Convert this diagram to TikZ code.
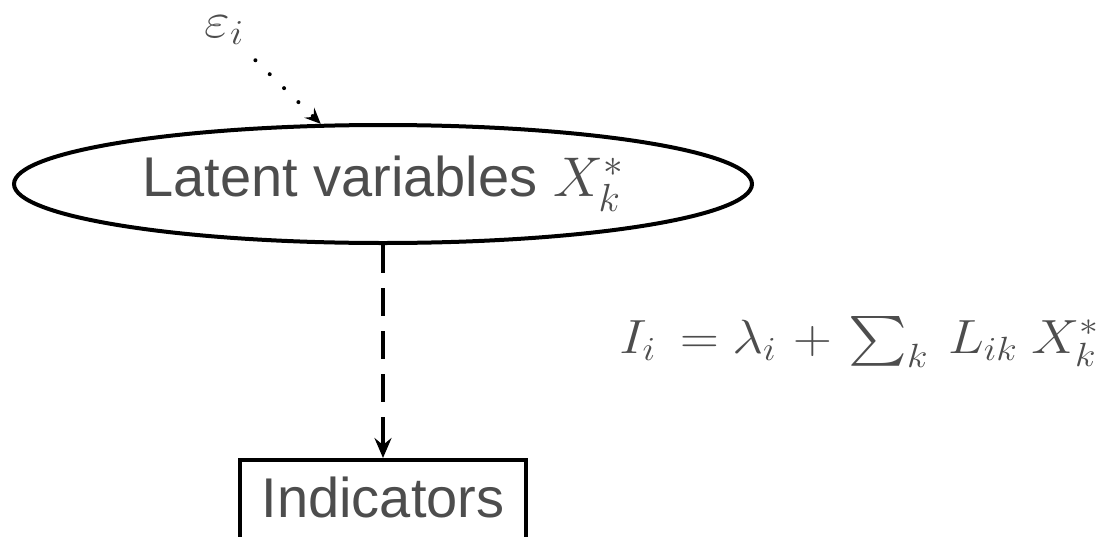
\RequirePackage{fix-cm}
\documentclass[tikz,border=0pt]{standalone}
\usepackage{amsmath}
\usepackage{graphicx}
\usepackage{fontspec}
\setsansfont{Liberation Sans}
\usepackage{tikz}
\usetikzlibrary{
  positioning,
  arrows.meta,
  shapes.geometric
}
\definecolor{txtgray}{HTML}{4D4D4D}

\begin{document}
\begin{tikzpicture}[
  x=0.5pt, y=-0.5pt,
  >=Stealth,
  latent/.style={
    ellipse, draw, line width=2pt, minimum width=369pt, minimum height=59pt,
    inner sep=0pt, font=\fontsize{28}{34}\selectfont\sffamily, text=txtgray
  },
  indic/.style={
    rectangle, draw, line width=2pt, inner xsep=11pt, inner ysep=8.5pt,
    text depth=6pt, font=\fontsize{28}{34}\selectfont\sffamily, text=txtgray
  },
  mathlbl/.style={inner sep=0pt, text=txtgray, anchor=base west},
  dashedarrow/.style={
    -{Stealth[length=10pt, width=8.5pt, inset=3.5pt]}, line width=2pt,
    dash pattern=on 14pt off 7.5pt
  },
  dottedarrow/.style={
    -{Stealth[length=8pt, width=7pt, inset=3pt]}, line width=2pt,
    line cap=round, dash pattern=on 0pt off 10pt
  }
]
\useasboundingbox (0,0) rectangle (1109,536);

\node[latent] (latvar) at (383,184) {Latent variables $X_k^*$};
\node[indic, anchor=north] (indic) at (383,458) {Indicators};
\node[mathlbl, font=\fontsize{25}{30}\selectfont] (eps) at (204,37)
  {\scalebox{1.12}[1]{$\varepsilon_i$}};
\node[mathlbl, font=\fontsize{24}{29}\selectfont] (eqn) at (619,353)
  {\scalebox{1.12}[1]{$I_i\mkern8mu{=}\mkern4.5mu\lambda_i\mkern5.5mu{+}\mkern5.5mu{\sum_k}\mkern6.5mu L_{ik}\mkern4.5mu X_k^*$}};

\draw[dashedarrow] (latvar) -- (indic);
\draw[dottedarrow, shorten <=11pt] (eps) -- (latvar.136);

\end{tikzpicture}
\end{document}
